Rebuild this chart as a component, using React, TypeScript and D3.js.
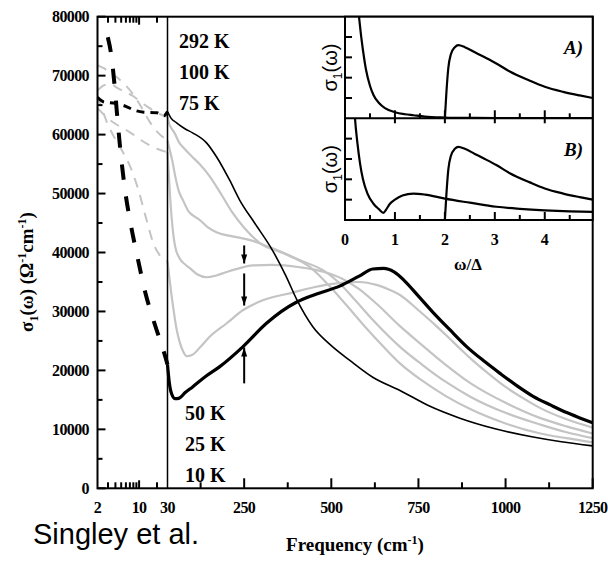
import * as d3 from "d3";
import { useEffect, useRef } from "react";

// sigma_1 (Ohm^-1 cm^-1) vs frequency (cm^-1); below 30 cm^-1 the curves are extrapolations (dashed)
const t292Low = [[2, 66300], [2.6, 65500], [4, 65300], [6, 64800], [8, 64200], [12, 63800], [20, 63700], [26, 63200], [30, 63900]];
const t100Low = [[2, 67500], [2.5, 68300], [3.2, 68600], [4.5, 67800], [6, 67200], [8, 66500], [11, 65400], [15, 64500], [20, 63700], [30, 63000]];
const t75Low = [[2, 71800], [2.5, 71300], [3.2, 70600], [4.5, 69500], [6, 68300], [8, 66800], [11, 64600], [15, 62200], [20, 60500], [30, 59000]];
const t50Low = [[2, 64500], [2.5, 63500], [3.2, 62500], [4.5, 61500], [6, 60800], [8, 60000], [11, 59000], [15, 58200], [20, 57600], [30, 57000]];
const t25Low = [[2, 66500], [2.4, 64300], [2.9, 62000], [4, 59200], [5.5, 56800], [7, 54700], [8.6, 52300], [10, 50200], [12, 47200], [14, 44800], [17, 41800], [22, 39600], [30, 38500]];
const t10Low = [[2.98, 76500], [3.46, 73000], [3.9, 68000], [4.34, 62500], [4.84, 57400], [5.8, 50600], [7.17, 45000], [9.4, 39200], [12.8, 33100], [18.1, 28000], [27.8, 22200], [30, 21000]];

const t292 = [[30, 63900], [40, 62800], [56, 62000], [80, 61000], [102, 60300], [142, 58600], [171, 56200], [208, 52300], [237, 48900], [280, 45000], [330, 40500], [370, 36000], [401, 32000], [447, 27400], [500, 24200], [553, 21700], [620, 18800], [697, 16600], [780, 14000], [869, 11900], [970, 10100], [1079, 8700], [1160, 7900], [1250, 7200]];
const t100 = [[30, 63000], [35, 61800], [42, 61000], [50, 60300], [62, 58800], [80, 57500], [100, 56300], [122, 55000], [150, 53000], [185, 49800], [216, 46800], [250, 44200], [295, 41600], [361, 39900], [439, 37500], [490, 34600], [540, 31300], [600, 27200], [650, 24000], [697, 21200], [760, 18300], [830, 15600], [900, 13400], [1000, 11000], [1100, 9300], [1175, 8500], [1250, 7800]];
const t75 = [[30, 59000], [36, 57500], [44, 55500], [52, 53000], [62, 50500], [75, 48800], [90, 47000], [105, 46200], [123, 45500], [145, 44300], [172, 43400], [220, 42700], [267, 42100], [344, 40400], [410, 38700], [476, 37000], [520, 35000], [570, 31800], [620, 28500], [697, 24000], [760, 21000], [830, 18000], [900, 15500], [1000, 12800], [1100, 10800], [1175, 9500], [1250, 8500]];
const t50 = [[30, 57000], [34, 53000], [38, 49000], [44, 44500], [52, 41000], [65, 39000], [80, 38000], [93, 37400], [115, 36300], [142, 35800], [170, 36100], [200, 36700], [240, 37400], [274, 37800], [330, 37900], [409, 37500], [480, 36700], [530, 35600], [580, 33800], [630, 31300], [697, 27500], [750, 24800], [800, 22300], [900, 17800], [1000, 14500], [1100, 11900], [1175, 10500], [1250, 9300]];
const t25 = [[30, 38500], [35, 36000], [40, 33500], [48, 30000], [56, 27000], [65, 24800], [75, 23200], [85, 22400], [100, 22600], [125, 24000], [151, 25700], [200, 28000], [246, 30200], [300, 31800], [389, 33200], [450, 34100], [520, 34800], [580, 35000], [630, 34500], [670, 33600], [697, 32800], [750, 30200], [800, 27600], [850, 24800], [900, 22000], [950, 19500], [1000, 17200], [1050, 15300], [1100, 13600], [1175, 11700], [1250, 10300]];
const t10 = [[30, 21000], [35, 18000], [42, 16000], [52, 15200], [64, 15300], [80, 16200], [102, 17200], [140, 19000], [179, 20600], [246, 24000], [314, 28000], [401, 31600], [460, 33000], [524, 34300], [580, 36000], [619, 37200], [650, 37300], [680, 36700], [710, 35200], [750, 32600], [791, 29900], [840, 26900], [889, 24000], [940, 21500], [984, 19500], [1030, 17500], [1079, 15600], [1130, 14100], [1177, 12800], [1215, 11900], [1250, 11100]];

const yTicks = [0, 10000, 20000, 30000, 40000, 50000, 60000, 70000, 80000];
const yMinor = [5000, 15000, 25000, 35000, 45000, 55000, 65000, 75000];
const logTicks = [3, 4, 5, 6, 7, 8, 9, 10, 20];
const logLabels = [2, 10, 30];
const linTicks = [250, 500, 750, 1000, 1250];
const linMinor = [125, 375, 625, 875, 1125];
const arrowDown = [250, 41200, 31000];
const arrowUp = [250, 17800, 23900];

// inset: sigma_1 vs omega/Delta (arbitrary units)
const drudeA = [[0.25, 1.15], [0.28, 1.0], [0.32, 0.82], [0.36, 0.67], [0.42, 0.48], [0.5, 0.32], [0.57, 0.23], [0.68, 0.15], [0.8, 0.1], [1.0, 0.06], [1.2, 0.04], [1.37, 0.03], [1.6, 0.017], [2.0, 0.008], [2.5, 0.004], [3, 0.003], [4, 0.002], [4.96, 0.002]];
const gapCurve = [[2.0, 0], [2.03, 0.25], [2.07, 0.5], [2.12, 0.63], [2.2, 0.7], [2.27, 0.72], [2.4, 0.7], [2.6, 0.65], [2.8, 0.6], [3.03, 0.54], [3.3, 0.46], [3.7, 0.37], [4.0, 0.31], [4.37, 0.26], [4.7, 0.225], [4.96, 0.2]];
const drudeB = [[0.18, 1.15], [0.2, 1.0], [0.25, 0.75], [0.3, 0.56], [0.36, 0.4], [0.45, 0.26], [0.57, 0.16], [0.67, 0.11], [0.77, 0.07], [0.82, 0.1], [0.9, 0.16], [1.0, 0.2], [1.15, 0.24], [1.37, 0.26], [1.6, 0.25], [2.0, 0.21], [2.5, 0.17], [3.03, 0.13], [3.5, 0.11], [4.0, 0.095], [4.5, 0.085], [4.96, 0.08]];
const insetTicks = [1, 2, 3, 4];
const insetMinor = [0.5, 1.5, 2.5, 3.5, 4.5];
const insetYTicks = [0.2, 0.4, 0.6, 0.8];

export default function App() {
  const ref = useRef<SVGSVGElement>(null);

  useEffect(() => {
    const svg = d3.select(ref.current);
    svg.selectAll("*").remove();

    const serif = "'Liberation Serif','Times New Roman',serif";
    const left = 97.5, right = 592.7, top = 16.7, bottom = 488.3, split = 167.5;

    const xLog = d3.scaleLog().domain([2, 30]).range([left, split]);
    const xLin = d3.scaleLinear().domain([30, 1250]).range([split, right]);
    const fx = (w: number) => (w <= 30 ? xLog(w) : xLin(w));
    const y = d3.scaleLinear().domain([0, 80000]).range([bottom, top]);

    svg.append("defs").append("clipPath").attr("id", "mainclip")
      .append("rect").attr("x", left).attr("y", top).attr("width", right - left).attr("height", bottom - top);

    const line = d3.line<number[]>().x(d => fx(d[0])).y(d => y(d[1])).curve(d3.curveMonotoneX);
    const plot = svg.append("g").attr("clip-path", "url(#mainclip)");

    const gray = "#c4c4c4";
    const series = [
      { d: t100Low, c: gray, w: 2, dash: "10,8" },
      { d: t75Low, c: gray, w: 2, dash: "10,8" },
      { d: t50Low, c: gray, w: 2, dash: "10,8" },
      { d: t25Low, c: gray, w: 2, dash: "10,8" },
      { d: t100, c: gray, w: 2.2, dash: null },
      { d: t75, c: gray, w: 2.2, dash: null },
      { d: t50, c: gray, w: 2.2, dash: null },
      { d: t25, c: gray, w: 2.2, dash: null },
      { d: t292Low, c: "#000", w: 3, dash: "8,6" },
      { d: t10Low, c: "#000", w: 4, dash: "15,17" },
      { d: t292, c: "#000", w: 1.6, dash: null },
      { d: t10, c: "#000", w: 3.2, dash: null },
    ];
    series.forEach(s => {
      plot.append("path").attr("d", line(s.d as number[][]))
        .attr("fill", "none").attr("stroke", s.c).attr("stroke-width", s.w)
        .attr("stroke-dasharray", s.dash).attr("stroke-linejoin", "round");
    });

    // arrows at 250 cm^-1
    const ax = fx(arrowDown[0]);
    const head = (x: number, yy: number, dir: number) =>
      svg.append("path").attr("d", `M${x - 3},${yy - dir * 9}L${x},${yy}L${x + 3},${yy - dir * 9}Z`).attr("fill", "#000");
    const yd0 = y(arrowDown[1]), yd1 = y(arrowDown[2]);
    const ymid = yd0 + (yd1 - yd0) * 0.3;
    svg.append("line").attr("x1", ax).attr("x2", ax).attr("y1", yd0).attr("y2", ymid).attr("stroke", "#000").attr("stroke-width", 2);
    head(ax, ymid, 1);
    svg.append("line").attr("x1", ax).attr("x2", ax).attr("y1", ymid + 10).attr("y2", yd1).attr("stroke", "#000").attr("stroke-width", 2);
    head(ax, yd1, 1);
    svg.append("line").attr("x1", ax).attr("x2", ax).attr("y1", y(arrowUp[1])).attr("y2", y(arrowUp[2])).attr("stroke", "#000").attr("stroke-width", 2);
    head(ax, y(arrowUp[2]), -1);

    // frame
    const ink = (g: any) => g.attr("stroke", "#000").attr("stroke-width", 2);
    svg.append("rect").attr("x", left).attr("y", top).attr("width", right - left).attr("height", bottom - top)
      .attr("fill", "none").call(ink);
    svg.append("line").attr("x1", split).attr("x2", split).attr("y1", top).attr("y2", bottom)
      .attr("stroke", "#000").attr("stroke-width", 1.5);

    // y axis ticks and labels
    yTicks.forEach(v => {
      svg.append("line").attr("x1", left).attr("x2", left + 8).attr("y1", y(v)).attr("y2", y(v)).call(ink);
      svg.append("text").attr("x", 89).attr("y", y(v) + 5.5).attr("text-anchor", "end")
        .attr("font-family", serif).attr("font-weight", "bold").attr("font-size", 16)
        .attr("letter-spacing", -0.6).text(String(v));
    });
    yMinor.forEach(v => {
      svg.append("line").attr("x1", left).attr("x2", left + 5).attr("y1", y(v)).attr("y2", y(v)).call(ink);
    });

    // x axis ticks
    logTicks.forEach(v => {
      const len = v === 10 ? 8 : 6;
      svg.append("line").attr("x1", xLog(v)).attr("x2", xLog(v)).attr("y1", bottom).attr("y2", bottom - len).call(ink);
      svg.append("line").attr("x1", xLog(v)).attr("x2", xLog(v)).attr("y1", top).attr("y2", top + len).call(ink);
    });
    linTicks.forEach(v => {
      svg.append("line").attr("x1", xLin(v)).attr("x2", xLin(v)).attr("y1", bottom).attr("y2", bottom - 10).call(ink);
    });
    linMinor.forEach(v => {
      svg.append("line").attr("x1", xLin(v)).attr("x2", xLin(v)).attr("y1", bottom).attr("y2", bottom - 6).call(ink);
    });
    const xLabels = [...logLabels.map(v => [xLog(v), v]), ...linTicks.map(v => [xLin(v), v])];
    xLabels.forEach(([px, v]) => {
      svg.append("text").attr("x", px).attr("y", 513).attr("text-anchor", "middle")
        .attr("font-family", serif).attr("font-weight", "bold").attr("font-size", 16)
        .attr("letter-spacing", -0.6).text(String(v));
    });

    // axis titles
    const xt = svg.append("text").attr("x", 355).attr("y", 551).attr("text-anchor", "middle")
      .attr("font-family", serif).attr("font-weight", "bold").attr("font-size", 19);
    xt.append("tspan").text("Frequency (cm");
    xt.append("tspan").attr("dy", -7).attr("font-size", 12).text("-1");
    xt.append("tspan").attr("dy", 7).text(")");

    const yt = svg.append("text").attr("transform", "translate(33,272) rotate(-90)").attr("text-anchor", "middle")
      .attr("font-family", serif).attr("font-weight", "bold").attr("font-size", 19);
    yt.append("tspan").text("σ");
    yt.append("tspan").attr("dy", 5).attr("font-size", 12).text("1");
    yt.append("tspan").attr("dy", -5).text("(ω) (Ω");
    yt.append("tspan").attr("dy", -7).attr("font-size", 12).text("-1");
    yt.append("tspan").attr("dy", 7).text("cm");
    yt.append("tspan").attr("dy", -7).attr("font-size", 12).text("-1");
    yt.append("tspan").attr("dy", 7).text(")");

    // temperature labels
    const tl = (t: string, x: number, yy: number) =>
      svg.append("text").attr("x", x).attr("y", yy).attr("font-family", serif)
        .attr("font-weight", "bold").attr("font-size", 20).text(t);
    tl("292 K", 179, 48); tl("100 K", 179, 79); tl("75 K", 179, 110);
    tl("50 K", 185, 420); tl("25 K", 185, 451); tl("10 K", 185, 482);

    svg.append("text").attr("x", 33).attr("y", 544).attr("font-family", "'Liberation Sans',Arial,sans-serif")
      .attr("font-size", 29).text("Singley et al.");

    // inset
    const iL = 345, iR = right, iT = top, iM = 118.3, iB = 220;
    const ix = d3.scaleLinear().domain([0, 4.96]).range([iL, iR]);
    const yA = d3.scaleLinear().domain([0, 1]).range([iM, iT]);
    const yB = d3.scaleLinear().domain([0, 1]).range([iB, iM]);
    svg.append("rect").attr("x", iL).attr("y", iT).attr("width", iR - iL).attr("height", iB - iT).attr("fill", "#fff");

    const defs = svg.select("defs");
    defs.append("clipPath").attr("id", "clipA").append("rect").attr("x", iL).attr("y", iT).attr("width", iR - iL).attr("height", iM - iT);
    defs.append("clipPath").attr("id", "clipB").append("rect").attr("x", iL).attr("y", iM).attr("width", iR - iL).attr("height", iB - iM);

    const lineA = d3.line<number[]>().x(d => ix(d[0])).y(d => yA(d[1])).curve(d3.curveMonotoneX);
    const lineB = d3.line<number[]>().x(d => ix(d[0])).y(d => yB(d[1])).curve(d3.curveMonotoneX);
    const pa = svg.append("g").attr("clip-path", "url(#clipA)");
    const pb = svg.append("g").attr("clip-path", "url(#clipB)");
    [drudeA, gapCurve].forEach(d => pa.append("path").attr("d", lineA(d)).attr("fill", "none").attr("stroke", "#000").attr("stroke-width", 2.2));
    [drudeB, gapCurve].forEach(d => pb.append("path").attr("d", lineB(d)).attr("fill", "none").attr("stroke", "#000").attr("stroke-width", 2.2));

    svg.append("rect").attr("x", iL).attr("y", iT).attr("width", iR - iL).attr("height", iB - iT).attr("fill", "none").call(ink);
    svg.append("line").attr("x1", iL).attr("x2", iR).attr("y1", iM).attr("y2", iM).call(ink);

    [iM, iB].forEach(base => {
      insetTicks.forEach(v => {
        svg.append("line").attr("x1", ix(v)).attr("x2", ix(v)).attr("y1", base).attr("y2", base - 8).call(ink);
      });
      insetMinor.forEach(v => {
        svg.append("line").attr("x1", ix(v)).attr("x2", ix(v)).attr("y1", base).attr("y2", base - 5).call(ink);
      });
    });
    insetTicks.forEach(v => {
      svg.append("line").attr("x1", ix(v)).attr("x2", ix(v)).attr("y1", iM).attr("y2", iM + 5).call(ink);
    });
    insetYTicks.forEach(v => {
      svg.append("line").attr("x1", iL).attr("x2", iL + 7).attr("y1", yA(v)).attr("y2", yA(v)).call(ink);
      svg.append("line").attr("x1", iL).attr("x2", iL + 7).attr("y1", yB(v)).attr("y2", yB(v)).call(ink);
    });
    [0, ...insetTicks].forEach(v => {
      svg.append("text").attr("x", ix(v)).attr("y", 245).attr("text-anchor", "middle")
        .attr("font-family", serif).attr("font-weight", "bold").attr("font-size", 16).text(String(v));
    });
    svg.append("text").attr("x", 468).attr("y", 270).attr("text-anchor", "middle")
      .attr("font-family", serif).attr("font-weight", "bold").attr("font-size", 17).text("ω/Δ");

    [[yA, "A)"], [yB, "B)"]].forEach(([sc, lab]: any) => {
      const mid = (sc(0) + sc(1)) / 2;
      const t = svg.append("text").attr("transform", `translate(337,${mid}) rotate(-90)`).attr("text-anchor", "middle")
        .attr("font-family", "'Liberation Sans',Arial,sans-serif").attr("font-size", 20);
      t.append("tspan").text("σ");
      t.append("tspan").attr("dy", 5).attr("font-size", 12).text("1");
      t.append("tspan").attr("dy", -5).text("(ω)");
      svg.append("text").attr("x", 564).attr("y", sc(0.63)).attr("font-family", serif)
        .attr("font-weight", "bold").attr("font-style", "italic").attr("font-size", 19).text(lab);
    });
  }, []);

  return (
    <div style={{ position: "absolute", left: 0, top: 0, background: "#fff" }}>
      <svg ref={ref} width={608} height={561} style={{ display: "block" }}></svg>
    </div>
  );
}
